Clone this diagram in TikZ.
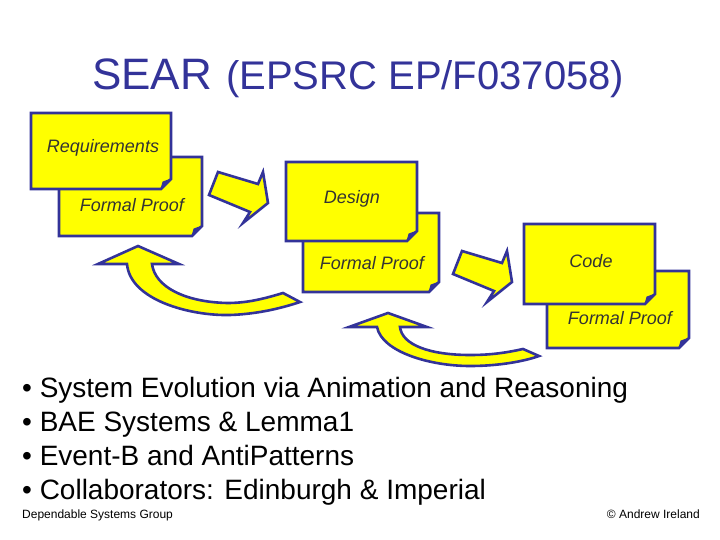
\documentclass[tikz,border=0pt]{standalone}
\usepackage{fontspec}
\setmainfont{Liberation Sans}
\definecolor{navy}{RGB}{51,51,153}
\definecolor{yel}{RGB}{255,255,0}
\tikzset{
  shp/.style={draw=navy, fill=yel, line width=2.6pt, line join=miter},
  fold/.style={fill=navy, draw=navy, line width=1pt, line join=round},
  lbl/.style={font=\fontsize{18}{21}\selectfont\itshape, text=black!80, inner sep=0pt},
  bul/.style={font=\fontsize{28}{32}\selectfont, anchor=base west, inner sep=0pt},
  foot/.style={font=\fontsize{12}{14}\selectfont, anchor=base, inner sep=0pt},
}
\newcommand{\notebox}[5]{% name, left, top, right, bottom
  \path[shp] (#2,#3) -- (#4,#3) -- (#4,#5-10) -- (#4-10,#5) -- (#2,#5) -- cycle;
  \path[fold] (#4-10,#5) -- (#4,#5-10) -- (#4-8,#5-7) -- cycle;
  \coordinate (#1) at ({(#2+#4)/2},{(#3+#5)/2});
}
\begin{document}
\begin{tikzpicture}[x=1pt,y=-1pt]
\useasboundingbox (0,0) rectangle (720,540);
% title
\node[anchor=base west, inner sep=0pt, text=navy, font=\fontsize{44}{50}\selectfont] (t1) at (92,90) {SEAR};
\node[anchor=base west, inner sep=0pt, text=navy, font=\fontsize{40}{46}\selectfont] (t2) at (226,90) {(EPSRC EP/F037058)};
% boxes
\notebox{b1b}{59}{157}{202}{236}
\notebox{b1}{31}{113}{171}{189}
\node[lbl] (l1) at (103,148) {Requirements};
\node[lbl] (l1b) at (132,205) {Formal Proof};
\notebox{b2b}{303}{213}{439}{292}
\notebox{b2}{286}{162}{417}{241}
\node[lbl] (l2) at (352,199) {Design};
\node[lbl] (l2b) at (372,263) {Formal Proof};
\notebox{b3b}{547}{271}{689}{348}
\notebox{b3}{524}{224}{655}{304}
\node[lbl] (l3) at (591,261) {Code};
\node[lbl] (l3b) at (620,318) {Formal Proof};
% straight block arrows
\path[shp] (218,172) -- (258,184) -- (263,172) -- (268,203) -- (243,223) -- (250,212) -- (209,195) -- cycle;
\path[shp] (462,251) -- (502,263) -- (507,251) -- (512,282) -- (487,302) -- (494,291) -- (453,274) -- cycle;
% curved arrows
\path[shp] (138,246) -- (98,264) -- (127,264)
  .. controls (130,300) and (190,316) .. (230,315)
  .. controls (260,314) and (285,307) .. (300,302)
  -- (283,293)
  .. controls (260,300) and (245,303) .. (227,303)
  .. controls (185,302) and (155,287) .. (152,264)
  -- (179,264) -- cycle;
\path[shp] (388,313) -- (349,327) -- (377,327)
  .. controls (382,352) and (430,366) .. (470,366)
  .. controls (500,366) and (525,361) .. (539,356)
  -- (523,349)
  .. controls (505,353) and (490,355) .. (470,355)
  .. controls (430,355) and (402,345) .. (400,327)
  -- (427,327) -- cycle;
% bullets
\node[bul] (p1) at (22,397) {• System Evolution via Animation and Reasoning};
\node[bul] (p2) at (22,431) {• BAE Systems \& Lemma1};
\node[bul] (p3) at (22,465) {• Event-B and AntiPatterns};
\node[bul] (p4) at (22,499) {• Collaborators: Edinburgh \& Imperial};
% footer
\node[foot, anchor=base west] (f1) at (22,518) {Dependable Systems Group};
\node[foot, anchor=base east] (f2) at (700,518) {© Andrew Ireland};
\end{tikzpicture}
\end{document}
